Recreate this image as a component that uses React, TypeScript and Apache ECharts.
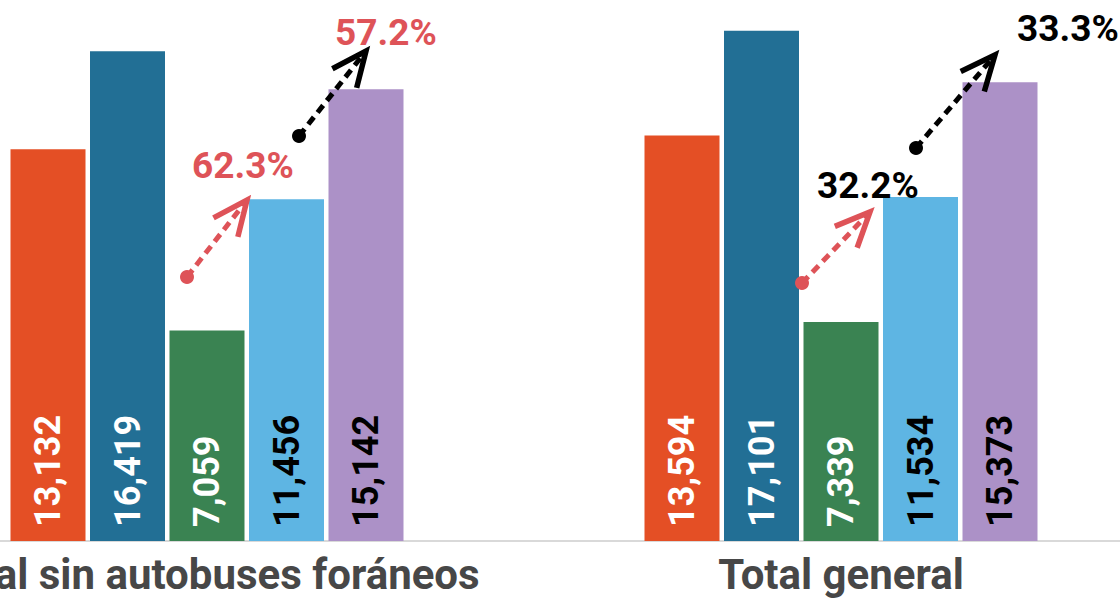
import React, { useEffect, useRef } from "react";
import * as echarts from "echarts";

// ---- data ----
const categories = ["Total sin autobuses foráneos", "Total general"];
const seriesNames = ["Serie 1", "Serie 2", "Serie 3", "Serie 4", "Serie 5"];
const serie1 = [13132, 13594];
const serie2 = [16419, 17101];
const serie3 = [7059, 7339];
const serie4 = [11456, 11534];
const serie5 = [15142, 15373];
const redArrowLabels = ["62.3%", "32.2%"];
const blackArrowLabels = ["57.2%", "33.3%"];

// ---- styles / layout ----
const colors = ["#E44F25", "#226F95", "#3A8352", "#5EB5E3", "#AC91C7"];
const labelColors = ["#ffffff", "#ffffff", "#ffffff", "#000000", "#000000"];
const RED = "#DE5358";
const BLACK = "#000000";
const SHIFT = 110; // chart div is shifted left by this amount

// annotation geometry (page pixels)
const arrows = [
  { dot: [187, 277], tip: [247, 200], color: RED, text: redArrowLabels[0], textColor: RED, tx: 192, ty: 165 },
  { dot: [299, 136], tip: [366, 51], color: BLACK, text: blackArrowLabels[0], textColor: RED, tx: 335, ty: 32 },
  { dot: [802, 283], tip: [870, 212], color: RED, text: redArrowLabels[1], textColor: BLACK, tx: 817, ty: 185 },
  { dot: [916, 148], tip: [995, 55], color: BLACK, text: blackArrowLabels[1], textColor: BLACK, tx: 1017, ty: 28 },
];

function buildArrow(a: any) {
  const [dx0, dy0] = a.dot;
  const [tx0, ty0] = a.tip;
  const x0 = dx0 + SHIFT;
  const y0 = dy0;
  const x1 = tx0 + SHIFT;
  const y1 = ty0;
  const vx = x0 - x1;
  const vy = y0 - y1;
  const L = Math.sqrt(vx * vx + vy * vy);
  const ux = vx / L;
  const uy = vy / L;
  const ang = (24 * Math.PI) / 180;
  const len = 38;
  const rot = (s: number) => [
    x1 + (ux * Math.cos(s * ang) - uy * Math.sin(s * ang)) * len,
    y1 + (ux * Math.sin(s * ang) + uy * Math.cos(s * ang)) * len,
  ];
  return [
    {
      type: "line",
      shape: { x1: x0, y1: y0, x2: x1 + ux * 3, y2: y1 + uy * 3 },
      style: { stroke: a.color, lineWidth: 5, lineDash: [9, 6] },
      z: 100,
    },
    {
      type: "circle",
      shape: { cx: x0, cy: y0, r: 7 },
      style: { fill: a.color },
      z: 100,
    },
    {
      type: "polyline",
      shape: { points: [rot(1), [x1, y1], rot(-1)] },
      style: { stroke: a.color, lineWidth: 5.5, fill: null, lineJoin: "miter" },
      z: 100,
    },
    {
      type: "text",
      x: a.tx + SHIFT,
      y: a.ty,
      style: {
        text: a.text,
        fill: a.textColor,
        font: "bold 37px Roboto",
        align: "left",
        verticalAlign: "middle",
      },
      z: 100,
    },
  ];
}

export default function App() {
  const ref = useRef<HTMLDivElement>(null);

  useEffect(() => {
    document.body.style.margin = "0";
    const chart = echarts.init(ref.current!, undefined, { renderer: "svg" });
    const allSeries = [serie1, serie2, serie3, serie4, serie5];
    chart.setOption({
      animation: false,
      grid: { left: 0, right: 0, top: 4, bottom: 62, outerBoundsMode: "none" },
      xAxis: {
        type: "category",
        data: categories,
        axisLine: { show: true, lineStyle: { color: "#d9d9d9", width: 2 } },
        axisTick: { show: false },
        axisLabel: {
          fontFamily: "Roboto",
          fontWeight: "bold",
          fontSize: 42,
          color: "#474747",
          margin: 12,
          interval: 0,
        },
        z: 0,
      },
      yAxis: {
        type: "value",
        min: 0,
        max: 18000,
        show: false,
        splitLine: { show: false },
      },
      series: allSeries.map((vals, i) => ({
        name: seriesNames[i],
        type: "bar",
        data: vals,
        barWidth: 75,
        barGap: "6%",
        itemStyle: { color: colors[i] },
        z: 3,
        label: {
          show: true,
          position: "insideBottom",
          rotate: 90,
          align: "left",
          verticalAlign: "middle",
          distance: 14,
          fontFamily: "Roboto",
          fontWeight: "bold",
          fontSize: 36,
          color: labelColors[i],
          formatter: (p: any) => Number(p.value).toLocaleString("en-US"),
        },
      })),
      graphic: arrows.flatMap(buildArrow),
    });
    return () => chart.dispose();
  }, []);

  return (
    <div style={{ position: "fixed", left: 0, top: 0, width: 1120, height: 603, overflow: "hidden", background: "#fff" }}>
      <div ref={ref} style={{ position: "absolute", left: -SHIFT, top: 0, width: 1268, height: 603 }} />
    </div>
  );
}
